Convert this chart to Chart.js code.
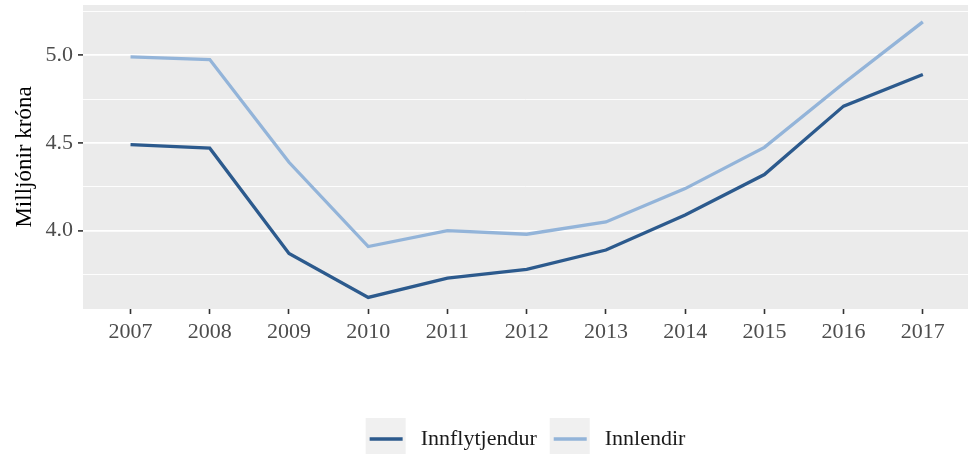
<!DOCTYPE html>
<html>
<head>
<meta charset="utf-8">
<script src="https://cdn.jsdelivr.net/npm/chart.js@4/dist/chart.umd.min.js"></script>
<style>
  html, body { margin: 0; padding: 0; background: #fff; }
  #wrap { width: 971px; height: 454px; }
</style>
</head>
<body>
<div id="wrap"><canvas id="lineChart"></canvas></div>
<script>
const years = [2007, 2008, 2009, 2010, 2011, 2012, 2013, 2014, 2015, 2016, 2017];
const innflytjendur = [4.49, 4.47, 3.87, 3.62, 3.73, 3.78, 3.89, 4.09, 4.32, 4.71, 4.89];
const innlendir = [4.99, 4.975, 4.39, 3.91, 4.00, 3.98, 4.05, 4.24, 4.475, 4.84, 5.19];
const seriesNames = ['Innflytjendur', 'Innlendir'];
const yTicks = [3.75, 4.0, 4.25, 4.5, 4.75, 5.0, 5.25];
const yMajor = [4.0, 4.5, 5.0];
const yTitle = 'Milljónir króna';

(function () {
  const ctx = document.getElementById('lineChart');
  if (!ctx || !window.Chart) return;

  const colors = ['#2c5a8d', '#93b4d9'];
  const serif = "'Liberation Serif', 'Times New Roman', serif";
  const isMajor = v => yMajor.some(m => Math.abs(m - v) < 1e-6);
  const pts = arr => years.map((y, i) => ({ x: y, y: arr[i] }));

  // ggplot-like grey panel and legend keys
  const panelBg = {
    id: 'panelBg',
    beforeDraw(chart) {
      const a = chart.chartArea, c = chart.ctx;
      c.save();
      c.fillStyle = '#ebebeb';
      c.fillRect(a.left, a.top, a.right - a.left, a.bottom - a.top);
      const boxes = chart.legend && chart.legend.legendHitBoxes;
      if (boxes) {
        boxes.forEach((b, i) => {
          const cy = b.top + 11;
          c.fillStyle = '#f0f0f0';
          c.fillRect(b.left, cy - 21, 40, 42);
          c.strokeStyle = chart.data.datasets[i].borderColor;
          c.lineWidth = 3.5;
          c.beginPath();
          c.moveTo(b.left + 4, cy);
          c.lineTo(b.left + 37, cy);
          c.stroke();
        });
      }
      c.restore();
    }
  };

  new Chart(ctx, {
    type: 'line',
    data: {
      datasets: [
        { label: seriesNames[0], data: pts(innflytjendur), borderColor: colors[0], borderWidth: 3.3, pointRadius: 0, tension: 0 },
        { label: seriesNames[1], data: pts(innlendir), borderColor: colors[1], borderWidth: 3.3, pointRadius: 0, tension: 0 }
      ]
    },
    options: {
      responsive: true,
      maintainAspectRatio: false,
      animation: false,
      events: [],
      layout: { padding: { left: 0, right: 3, top: 5, bottom: -6 } },
      plugins: {
        tooltip: { enabled: false },
        legend: {
          position: 'bottom',
          fullSize: false,
          labels: {
            boxWidth: 44,
            boxHeight: 22,
            padding: 13,
            color: '#1a1a1a',
            font: { family: serif, size: 22 },
            generateLabels(chart) {
              return chart.data.datasets.map((d, i) => ({
                text: d.label, fillStyle: 'rgba(0,0,0,0)', strokeStyle: 'rgba(0,0,0,0)',
                lineWidth: 0, fontColor: '#1a1a1a', datasetIndex: i, hidden: false
              }));
            }
          }
        }
      },
      scales: {
        x: {
          type: 'linear',
          min: 2006.4,
          max: 2017.57,
          afterBuildTicks(scale) { scale.ticks = years.map(v => ({ value: v })); },
          afterFit(scale) { scale.height = 106; scale.paddingLeft = 0; scale.paddingRight = 0; },
          border: { display: false },
          grid: { drawOnChartArea: false, drawTicks: true, tickLength: 5, tickColor: '#333', tickWidth: 1.6 },
          ticks: {
            padding: 5, color: '#4d4d4d', maxRotation: 0,
            font: { family: serif, size: 22 },
            callback: v => String(v)
          }
        },
        y: {
          min: 3.554,
          max: 5.286,
          afterBuildTicks(scale) { scale.ticks = yTicks.map(v => ({ value: v })); },
          afterFit(scale) { scale.width = 83; scale.paddingTop = 0; scale.paddingBottom = 0; },
          border: { display: false },
          grid: {
            color: '#ffffff',
            lineWidth: c => (isMajor(c.tick.value) ? 1.8 : 0.9),
            tickLength: 5,
            tickWidth: 1.6,
            tickColor: c => (isMajor(c.tick.value) ? '#333' : 'rgba(0,0,0,0)')
          },
          ticks: {
            padding: 5, color: '#4d4d4d',
            font: { family: serif, size: 22 },
            callback: v => (isMajor(v) ? v.toFixed(1) : '')
          },
          title: {
            display: true, text: yTitle, color: '#000',
            font: { family: serif, size: 23 },
            padding: { top: 11, bottom: 0 }
          }
        }
      }
    },
    plugins: [panelBg]
  });
})();
</script>
</body>
</html>
